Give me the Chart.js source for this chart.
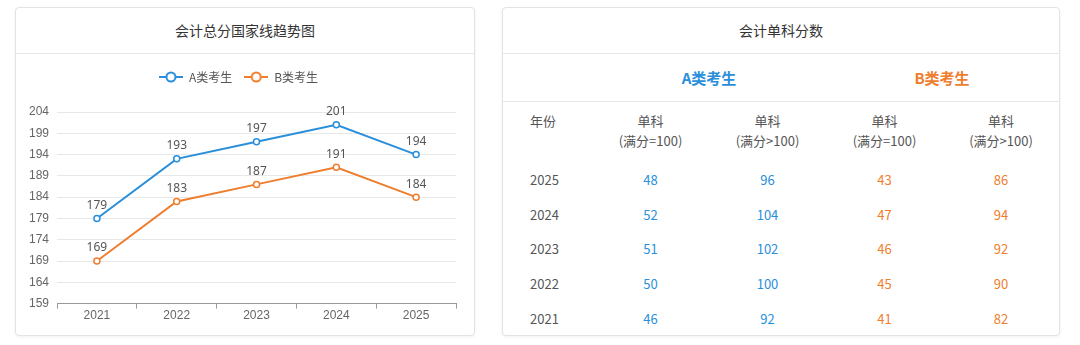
<!DOCTYPE html>
<html>
<head>
<meta charset="utf-8">
<script src="https://cdn.jsdelivr.net/npm/chart.js@4"></script>
<style>
    body { margin: 0; background: #fff; font-family: "Noto Sans CJK SC", "Noto Sans", sans-serif; width: 1080px; height: 345px; position: relative; overflow: hidden; }
    .card { position: absolute; top: 7px; height: 329px; border: 1px solid #e3e3e3; border-radius: 4px; box-shadow: 0 1px 3px rgba(0,0,0,0.06); background: #fff; box-sizing: border-box; }
    .card-head { height: 45px; line-height: 45px; text-align: center; font-size: 14px; color: #333; border-bottom: 1px solid #e6e6e6; }
    #left { left: 15px; width: 460px; }
    #right { left: 502px; width: 558px; }
    .chart-box { position: absolute; left: 0; top: 46px; width: 458px; height: 281px; }
    .groups { height: 47px; border-bottom: 1px solid #e6e6e6; position: relative; font-weight: bold; font-size: 15px; }
    .groups span { position: absolute; top: 0; line-height: 47px; transform: translateX(-50%); }
    table { border-collapse: collapse; table-layout: fixed; width: 556px; font-size: 13px; color: #555; }
    td, th { padding: 0; text-align: center; font-weight: normal; }
    th { height: 60px; vertical-align: top; padding-top: 9px; line-height: 20px; box-sizing: border-box; }
    td { height: 34.75px; }
    .yr { text-align: left; padding-left: 27px; }
</style>
</head>
<body>
<div class="card" id="left">
    <div class="card-head">会计总分国家线趋势图</div>
    <div class="chart-box"><canvas id="c" width="458" height="281"></canvas></div>
</div>
<div class="card" id="right">
    <div class="card-head">会计单科分数</div>
    <div class="groups" id="groups"></div>
    <table id="tbl"></table>
</div>
<script>
const years = ['2021', '2022', '2023', '2024', '2025'];
const totalA = [179, 193, 197, 201, 194];
const totalB = [169, 183, 187, 191, 184];
const yTicks = { min: 159, max: 204, step: 5 };

// right-hand table, newest first
const tableYears = ['2025', '2024', '2023', '2022', '2021'];
const singleA100 = [48, 52, 51, 50, 46];
const singleAOver = [96, 104, 102, 100, 92];
const singleB100 = [43, 47, 46, 45, 41];
const singleBOver = [86, 94, 92, 90, 82];
const colHeads = ['单科<br>(满分=100)', '单科<br>(满分>100)', '单科<br>(满分=100)', '单科<br>(满分>100)'];
const groupNames = ['A类考生', 'B类考生'];

const blue = '#2a8fdb';
const orange = '#ef7d2e';

// table
let g = document.getElementById('groups');
g.innerHTML = '<span style="left:206px;color:' + blue + '">' + groupNames[0] + '</span>' +
    '<span style="left:439px;color:' + orange + '">' + groupNames[1] + '</span>';
let html = '<colgroup><col style="width:89px"><col style="width:117px"><col style="width:117px"><col style="width:117px"><col style="width:116px"></colgroup>';
html += '<tr><th class="yr">年份</th>' + colHeads.map(h => '<th>' + h + '</th>').join('') + '</tr>';
tableYears.forEach((y, i) => {
    html += '<tr><td class="yr">' + y + '</td>' +
        '<td style="color:' + blue + '">' + singleA100[i] + '</td>' +
        '<td style="color:' + blue + '">' + singleAOver[i] + '</td>' +
        '<td style="color:' + orange + '">' + singleB100[i] + '</td>' +
        '<td style="color:' + orange + '">' + singleBOver[i] + '</td></tr>';
});
document.getElementById('tbl').innerHTML = html;

// legend marker like "-o-"
function legendIcon(color) {
    let cv = document.createElement('canvas');
    cv.width = 24; cv.height = 12;
    let ctx = cv.getContext('2d');
    ctx.strokeStyle = color;
    ctx.lineWidth = 2;
    ctx.beginPath(); ctx.moveTo(0, 6); ctx.lineTo(24, 6); ctx.stroke();
    ctx.fillStyle = '#fff';
    ctx.beginPath(); ctx.arc(12, 6, 4.5, 0, Math.PI * 2); ctx.fill(); ctx.stroke();
    return cv;
}

const valueLabels = {
    id: 'valueLabels',
    afterDatasetsDraw(chart) {
        let ctx = chart.ctx;
        ctx.save();
        ctx.font = '12px "Noto Sans", sans-serif';
        ctx.fillStyle = '#555';
        ctx.textAlign = 'center';
        ctx.textBaseline = 'bottom';
        chart.data.datasets.forEach((ds, i) => {
            chart.getDatasetMeta(i).data.forEach((pt, j) => {
                ctx.fillText(ds.data[j], pt.x, pt.y - 7);
            });
        });
        ctx.restore();
    }
};

// extra gap below the legend
const legendGap = {
    id: 'legendGap',
    beforeInit(chart) {
        const fit = chart.legend.fit;
        chart.legend.fit = function () {
            fit.bind(chart.legend)();
            this.height += 19;
        };
    }
};

function makeSet(label, values, color) {
    return {
        label: label,
        data: values,
        borderColor: color,
        backgroundColor: '#fff',
        borderWidth: 2,
        pointRadius: 3,
        pointBorderWidth: 1.5,
        pointBackgroundColor: '#fff',
        pointStyle: 'circle',
        tension: 0
    };
}

const icons = [legendIcon(blue), legendIcon(orange)];

new Chart(document.getElementById('c'), {
    type: 'line',
    data: {
        labels: years,
        datasets: [makeSet('A类考生', totalA, blue), makeSet('B类考生', totalB, orange)]
    },
    plugins: [valueLabels, legendGap],
    options: {
        responsive: false,
        animation: false,
        layout: { padding: { left: 5, right: 18, top: 5, bottom: 12 } },
        plugins: {
            tooltip: { enabled: false },
            legend: {
                labels: {
                    usePointStyle: true,
                    pointStyleWidth: 24,
                    color: '#555',
                    font: { size: 12, family: '"Noto Sans CJK SC", sans-serif' },
                    padding: 12,
                    generateLabels: chart => chart.data.datasets.map((ds, i) => ({
                        text: ds.label,
                        pointStyle: icons[i],
                        fillStyle: '#fff',
                        strokeStyle: ds.borderColor,
                        fontColor: '#555',
                        datasetIndex: i
                    }))
                }
            }
        },
        scales: {
            x: {
                offset: true,
                grid: { offset: true, drawOnChartArea: false, drawTicks: true, tickLength: 5, color: '#999' },
                border: { color: '#999' },
                ticks: { color: '#666', font: { size: 12 }, padding: 0 }
            },
            y: {
                min: yTicks.min,
                max: yTicks.max,
                grid: { color: '#e8e8e8', drawTicks: false },
                border: { display: false },
                ticks: { stepSize: yTicks.step, autoSkip: false, color: '#666', font: { size: 12 }, padding: 8 }
            }
        }
    }
});
</script>
</body>
</html>
